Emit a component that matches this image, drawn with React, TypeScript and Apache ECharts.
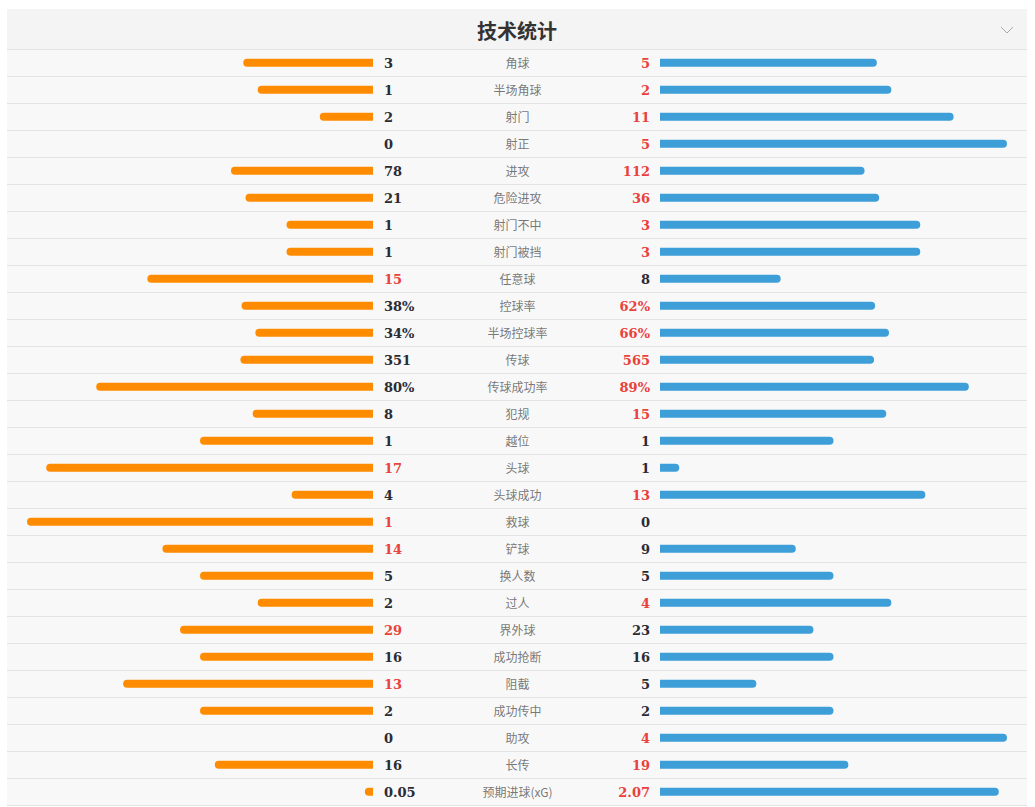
import React, { useEffect, useRef } from "react";
import * as echarts from "echarts";

const categories = [
  "角球", "半场角球", "射门", "射正", "进攻", "危险进攻", "射门不中", "射门被挡",
  "任意球", "控球率", "半场控球率", "传球", "传球成功率", "犯规", "越位", "头球",
  "头球成功", "救球", "铲球", "换人数", "过人", "界外球", "成功抢断", "阻截",
  "成功传中", "助攻", "长传", "预期进球(xG)",
];
const leftValues = [3, 1, 2, 0, 78, 21, 1, 1, 15, 38, 34, 351, 80, 8, 1, 17, 4, 1, 14, 5, 2, 29, 16, 13, 2, 0, 16, 0.05];
const rightValues = [5, 2, 11, 5, 112, 36, 3, 3, 8, 62, 66, 565, 89, 15, 1, 1, 13, 0, 9, 5, 4, 23, 16, 5, 2, 4, 19, 2.07];
const isPercent = [false, false, false, false, false, false, false, false, false, true, true, false, true, false, false, false, false, false, false, false, false, false, false, false, false, false, false, false];
const leftText = ["3", "1", "2", "0", "78", "21", "1", "1", "15", "38%", "34%", "351", "80%", "8", "1", "17", "4", "1", "14", "5", "2", "29", "16", "13", "2", "0", "16", "0.05"];
const rightText = ["5", "2", "11", "5", "112", "36", "3", "3", "8", "62%", "66%", "565", "89%", "15", "1", "1", "13", "0", "9", "5", "4", "23", "16", "5", "2", "4", "19", "2.07"];
const title = "技术统计";

const ORANGE = "#ff8c00";
const BLUE = "#3e9ed8";
const RED = "#e8423b";
const DARK = "#2b2b33";

function ratio(i: number, side: "l" | "r") {
  const l = leftValues[i];
  const r = rightValues[i];
  if (isPercent[i]) return (side === "l" ? l : r) / 100;
  const s = l + r;
  if (s === 0) return 0;
  return (side === "l" ? l : r) / s;
}

export default function App() {
  const ref = useRef<HTMLDivElement>(null);
  useEffect(() => {
    if (!ref.current) return;
    const chart = echarts.init(ref.current, null, { renderer: "svg" });
    const n = categories.length;
    const rowH = 27;
    const top = 49.3;
    const h = rowH * n;
    const numFont = { fontFamily: "DejaVu Serif", fontWeight: "bold" as const, fontSize: 13, padding: [2, 0, 0, 0] };
    const rich = {
      r: { ...numFont, color: RED },
      b: { ...numFont, color: DARK },
    };
    const leftData = categories.map((_, i) => ratio(i, "l"));
    const rightData = categories.map((_, i) => ratio(i, "r"));
    chart.setOption({
      animation: false,
      backgroundColor: "#ffffff",
      graphic: [
        { type: "rect", shape: { x: 7, y: 9, width: 1020, height: 40.3 }, style: { fill: "#f4f4f4" }, z: -10 },
        {
          type: "text",
          x: 517,
          y: 30,
          style: {
            text: title,
            fill: "#333333",
            font: "bold 20px 'Noto Sans CJK SC'",
            textAlign: "center",
            textVerticalAlign: "middle",
          },
        },
        {
          type: "polyline",
          shape: { points: [[1001, 27], [1007, 33], [1013, 27]] },
          style: { stroke: "#aaaaaa", lineWidth: 1, fill: "none" },
        },
      ],
      grid: [
        { left: 7, width: 1020, top, height: h, show: true, backgroundColor: "#f8f8f8", borderWidth: 0 },
        { left: 27, width: 346, top, height: h },
        { left: 660, width: 347, top, height: h },
        { left: 420, width: 195, top, height: h },
      ],
      xAxis: [
        { gridIndex: 0, type: "value", show: false, min: 0, max: 1 },
        { gridIndex: 1, type: "value", show: false, min: 0, max: 1, inverse: true },
        { gridIndex: 2, type: "value", show: false, min: 0, max: 1 },
        { gridIndex: 3, type: "value", show: false, min: 0, max: 1 },
      ],
      yAxis: [
        {
          gridIndex: 0, type: "category", data: categories, inverse: true,
          axisLine: { show: false }, axisTick: { show: false }, axisLabel: { show: false },
          splitLine: { show: true, lineStyle: { color: "#e3e3e3", width: 1 } },
        },
        {
          gridIndex: 1, type: "category", data: categories, inverse: true, position: "right",
          axisLine: { show: false }, axisTick: { show: false }, splitLine: { show: false },
          axisLabel: {
            margin: 11,
            formatter: (_v: string, i: number) => {
              const red = leftValues[i] > rightValues[i];
              return `{${red ? "r" : "b"}|${leftText[i]}}`;
            },
            rich,
          },
        },
        {
          gridIndex: 2, type: "category", data: categories, inverse: true, position: "left",
          axisLine: { show: false }, axisTick: { show: false }, splitLine: { show: false },
          axisLabel: {
            margin: 10,
            formatter: (_v: string, i: number) => {
              const red = rightValues[i] > leftValues[i];
              return `{${red ? "r" : "b"}|${rightText[i]}}`;
            },
            rich,
          },
        },
        {
          gridIndex: 3, type: "category", data: categories, inverse: true, show: false,
        },
      ],
      series: [
        {
          type: "bar", xAxisIndex: 1, yAxisIndex: 1, data: leftData, barWidth: 8,
          itemStyle: { color: ORANGE, borderRadius: [4, 0, 0, 4] }, silent: true,
        },
        {
          type: "bar", xAxisIndex: 2, yAxisIndex: 2, data: rightData, barWidth: 8,
          itemStyle: { color: BLUE, borderRadius: [0, 4, 4, 0] }, silent: true,
        },
        {
          type: "scatter", xAxisIndex: 3, yAxisIndex: 3, symbolSize: 0,
          data: categories.map((c) => [0.5, c]),
          label: {
            show: true, position: "inside",
            formatter: (p: any) => categories[p.dataIndex],
            color: "#555555", fontSize: 12, fontFamily: "Noto Sans CJK SC",
          },
          silent: true,
        },
      ],
    });
    return () => chart.dispose();
  }, []);
  return (
    <div
      ref={ref}
      style={{ position: "absolute", left: 0, top: 0, width: 1035, height: 807 }}
    />
  );
}
